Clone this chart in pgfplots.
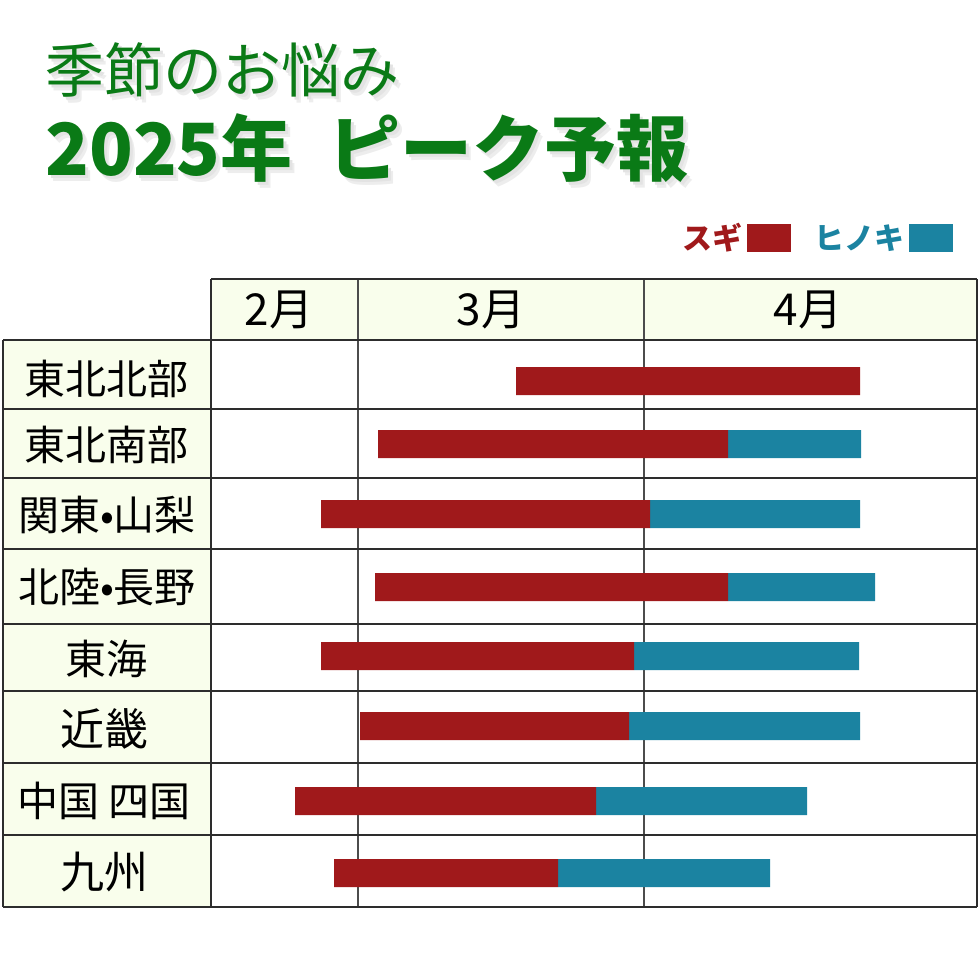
\documentclass[border=0pt]{standalone}
\usepackage{pgfplots}
\pgfplotsset{compat=1.18}
\usepackage{pgfplotstable}
\usepackage{fontspec}
\setmainfont{Noto Sans CJK JP}
\definecolor{sugi}{RGB}{160,25,27}
\definecolor{hinoki}{RGB}{27,131,161}
\definecolor{ttl}{RGB}{10,122,22}
\definecolor{hdr}{RGB}{249,254,236}
\definecolor{gridc}{RGB}{45,45,45}

% y = row centre (pixel), start / mid (sugi->hinoki) / end (pixel positions on the month scale)
\pgfplotstableread{
y   start mid end
381 516   860 860
444 378   728 861
514 321   650 860
587 375   728 875
656 321   634 859
726 360   629 860
801 295   596 807
873 334   558 770
}\peak

\begin{document}
\begin{tikzpicture}
% ---------- table background (pixel units, origin top-left) ----------
\begin{scope}[x=0.5pt, y=-0.5pt, yshift=490pt]
\path (0,0) rectangle (980,980);
\fill[hdr] (211,279) rectangle (977,340);
\fill[hdr] (3,340) rectangle (211,907);
\draw[line width=0.8pt, gray!60!black] (358,279) -- (358,907);
\draw[line width=0.8pt, gray!60!black] (644,279) -- (644,907);
\foreach \yy in {340,409,478,549,624,691,763,835,907}
  \draw[line width=1.3pt, gridc] (3,\yy) -- (977,\yy);
\draw[line width=1.3pt, gridc] (211,279) -- (977,279);
\draw[line width=1.3pt, gridc] (3,340) -- (3,907);
\draw[line width=1.3pt, gridc] (211,279) -- (211,907);
\draw[line width=1.3pt, gridc] (977,279) -- (977,907);
\end{scope}

% ---------- bars ----------
\begin{axis}[
  at={(0,0)}, anchor=south west,
  scale only axis, width=490pt, height=490pt,
  xmin=0, xmax=980, ymin=0, ymax=980, y dir=reverse,
  hide axis, clip=false,
  xbar stacked, bar width=14pt,
  legend plot pos=right,
  legend columns=2,
  legend style={draw=none, fill=none, at={(0.9724,0.757)}, anchor=east,
    font=\bfseries\fontsize{15pt}{17pt}\selectfont, inner sep=0pt,
    /tikz/every even column/.append style={column sep=10pt}},
  legend image code/.code={\path[#1] (0pt,-7pt) rectangle (22pt,7pt);},
]
\addplot[fill=none, draw=none, forget plot] table[x=start, y=y]{\peak};
\addplot[fill=sugi, draw=none] table[x expr=\thisrow{mid}-\thisrow{start}, y=y]{\peak};
\addlegendentry{\textcolor{sugi}{スギ}}
\addplot[fill=hinoki, draw=none] table[x expr=\thisrow{end}-\thisrow{mid}, y=y]{\peak};
\addlegendentry{\textcolor{hinoki}{ヒノキ}}
\end{axis}

% ---------- texts ----------
\begin{scope}[x=0.5pt, y=-0.5pt, yshift=490pt,
  lab/.style={anchor=center, inner sep=0pt, text=black, font=\fontsize{20.5pt}{22pt}\selectfont}]
\node[anchor=west, inner sep=0pt, text=gray!14, font=\fontsize{29.5pt}{31pt}\selectfont] at (50,76) {季節のお悩み};
\node[anchor=west, inner sep=0pt, text=gray!22, font=\fontsize{29.5pt}{31pt}\selectfont] at (48,73) {季節のお悩み};
\node[anchor=west, inner sep=0pt, text=ttl, font=\fontsize{29.5pt}{31pt}\selectfont] at (45,70) {季節のお悩み};
\node[anchor=west, inner sep=0pt, text=gray!14, font=\bfseries\fontsize{36pt}{38pt}\selectfont] at (50,154) {2025年\hspace{0.5em}ピーク予報};
\node[anchor=west, inner sep=0pt, text=gray!22, font=\bfseries\fontsize{36pt}{38pt}\selectfont] at (48,151) {2025年\hspace{0.5em}ピーク予報};
\node[anchor=west, inner sep=0pt, text=ttl, font=\bfseries\fontsize{36pt}{38pt}\selectfont] at (45,148) {2025年\hspace{0.5em}ピーク予報};

\node[lab, font=\fontsize{22pt}{24pt}\selectfont] at (279,310) {2月};
\node[lab, font=\fontsize{22pt}{24pt}\selectfont] at (491,310) {3月};
\node[lab, font=\fontsize{22pt}{24pt}\selectfont] at (808,310) {4月};

\node[lab] at (107,379) {東北北部};
\node[lab] at (107,445) {東北南部};
\node[lab] at (107,515) {関東•山梨};
\node[lab] at (107,587) {北陸•長野};
\node[lab] at (106,659) {東海};
\node[lab, font=\fontsize{22pt}{24pt}\selectfont] at (105,729) {近畿};
\node[lab] at (104,801) {中国 四国};
\node[lab, font=\fontsize{22pt}{24pt}\selectfont] at (105,872) {九州};
\end{scope}
\end{tikzpicture}
\end{document}
